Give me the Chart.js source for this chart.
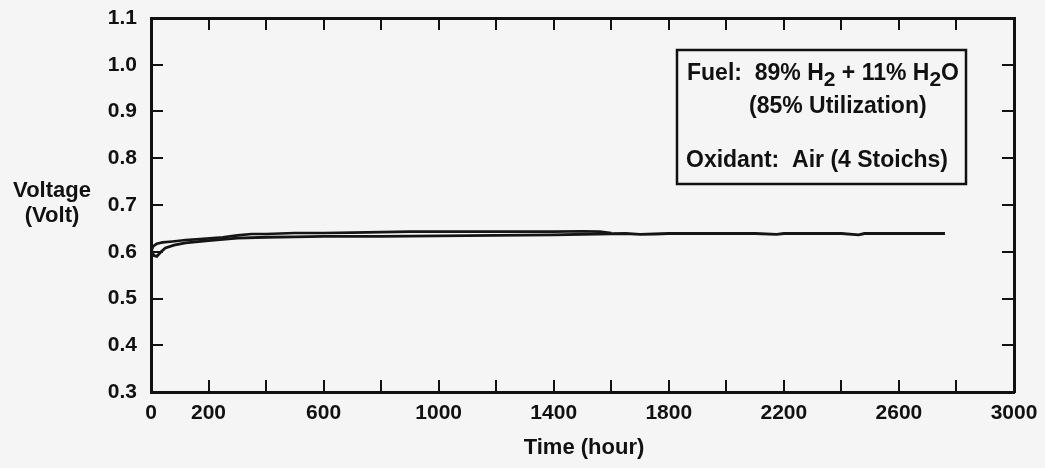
<!DOCTYPE html>
<html>
<head>
<meta charset="utf-8">
<script src="https://cdn.jsdelivr.net/npm/chart.js@4.4.1/dist/chart.umd.min.js"></script>
<style>
  html, body { margin: 0; padding: 0; background: #f5f5f5; }
  #wrap { width: 1045px; height: 468px; }
</style>
</head>
<body>
<div id="wrap"><canvas id="voltChart" width="1045" height="468"></canvas></div>
<script>
// test cell voltage vs time, two runs
const hoursUpper = [0, 8, 20, 40, 75, 120, 170, 250, 300, 350, 400, 500, 600, 700, 800, 900, 1000, 1100, 1200, 1300, 1400, 1500, 1560, 1600];
const voltUpper = [0.600, 0.612, 0.617, 0.620, 0.622, 0.625, 0.627, 0.631, 0.635, 0.638, 0.638, 0.640, 0.640, 0.641, 0.642, 0.643, 0.643, 0.643, 0.643, 0.643, 0.643, 0.644, 0.643, 0.640];

const hoursLower = [0, 10, 20, 35, 50, 80, 120, 200, 300, 400, 500, 600, 800, 1000, 1200, 1400, 1550, 1650, 1700, 1750, 1800, 2000, 2100, 2175, 2200, 2300, 2400, 2460, 2480, 2600, 2700, 2760];
const voltLower = [0.606, 0.592, 0.590, 0.600, 0.608, 0.614, 0.619, 0.624, 0.629, 0.631, 0.632, 0.633, 0.633, 0.634, 0.635, 0.636, 0.638, 0.639, 0.637, 0.638, 0.639, 0.639, 0.639, 0.637, 0.639, 0.639, 0.639, 0.636, 0.639, 0.639, 0.639, 0.639];

const xLabeled = [0, 200, 600, 1000, 1400, 1800, 2200, 2600, 3000];

const FONT = "'Liberation Sans', Arial, sans-serif";

function toPoints(xs, ys) {
  return xs.map((x, i) => ({ x: x, y: ys[i] }));
}

// plot box edges are fixed by forcing the axis sizes (and dropping label overhang)
function fixSize(size) {
  return function (scale) {
    if (scale.isHorizontal()) scale.height = size;
    else scale.width = size;
    scale.paddingLeft = 0;
    scale.paddingRight = 0;
    scale.paddingTop = 0;
    scale.paddingBottom = 0;
  };
}

const tickGrid = {
  drawOnChartArea: false,
  drawTicks: true,
  tickLength: -12,
  color: "#111",
  lineWidth: 2
};
const axisBorder = { display: true, color: "#111", width: 3 };

const textPlugin = {
  id: "figureText",
  afterDraw(chart) {
    const ctx = chart.ctx;
    ctx.save();
    ctx.fillStyle = "#111";
    ctx.textBaseline = "middle";
    ctx.textAlign = "center";
    ctx.font = "bold 22px " + FONT;
    ctx.fillText("Voltage", 52, 191);
    ctx.fillText("(Volt)", 52, 216);
    ctx.fillText("Time (hour)", 584, 448);

    // annotation box
    ctx.strokeStyle = "#111";
    ctx.lineWidth = 2.5;
    ctx.strokeRect(677, 50, 289, 134);

    ctx.textAlign = "left";
    let x = 687;
    const y1 = 74;
    const parts = [
      ["Fuel:  89% H", 0], ["2", 1], [" + 11% H", 0], ["2", 1], ["O", 0]
    ];
    parts.forEach(p => {
      if (p[1]) {
        ctx.font = "bold 21px " + FONT;
        ctx.fillText(p[0], x, y1 + 6);
      } else {
        ctx.font = "bold 23px " + FONT;
        ctx.fillText(p[0], x, y1);
      }
      x += ctx.measureText(p[0]).width;
    });
    ctx.font = "bold 23px " + FONT;
    ctx.fillText("(85% Utilization)", 749, 107);
    ctx.fillText("Oxidant:  Air (4 Stoichs)", 686, 161);
    ctx.restore();
  }
};

const ctx = document.getElementById("voltChart").getContext("2d");

new Chart(ctx, {
  type: "scatter",
  data: {
    datasets: [
      {
        data: toPoints(hoursUpper, voltUpper),
        showLine: true,
        borderColor: "#151515",
        borderWidth: 2.6,
        pointRadius: 0,
        tension: 0
      },
      {
        data: toPoints(hoursLower, voltLower),
        showLine: true,
        borderColor: "#151515",
        borderWidth: 2.8,
        pointRadius: 0,
        tension: 0
      }
    ]
  },
  options: {
    responsive: false,
    animation: false,
    layout: { padding: 0 },
    plugins: {
      legend: { display: false },
      tooltip: { enabled: false }
    },
    scales: {
      x: {
        type: "linear",
        position: "bottom",
        min: 0,
        max: 3000,
        afterFit: fixSize(76),
        grid: tickGrid,
        border: axisBorder,
        ticks: {
          stepSize: 200,
          autoSkip: false,
          maxRotation: 0,
          padding: 23,
          color: "#111",
          font: { family: FONT, size: 21, weight: "bold", lineHeight: 1 },
          callback: v => (xLabeled.includes(v) ? String(v) : "")
        }
      },
      xTop: {
        type: "linear",
        position: "top",
        min: 0,
        max: 3000,
        afterFit: fixSize(18),
        grid: tickGrid,
        border: axisBorder,
        ticks: { stepSize: 200, display: false }
      },
      y: {
        type: "linear",
        position: "left",
        min: 0.3,
        max: 1.1,
        afterFit: fixSize(151),
        grid: tickGrid,
        border: axisBorder,
        ticks: {
          stepSize: 0.1,
          autoSkip: false,
          padding: 26,
          color: "#111",
          font: { family: FONT, size: 21, weight: "bold" },
          callback: v => v.toFixed(1)
        }
      },
      yRight: {
        type: "linear",
        position: "right",
        min: 0.3,
        max: 1.1,
        afterFit: fixSize(31),
        grid: tickGrid,
        border: axisBorder,
        ticks: { stepSize: 0.1, display: false }
      }
    }
  },
  plugins: [textPlugin]
});
</script>
</body>
</html>
